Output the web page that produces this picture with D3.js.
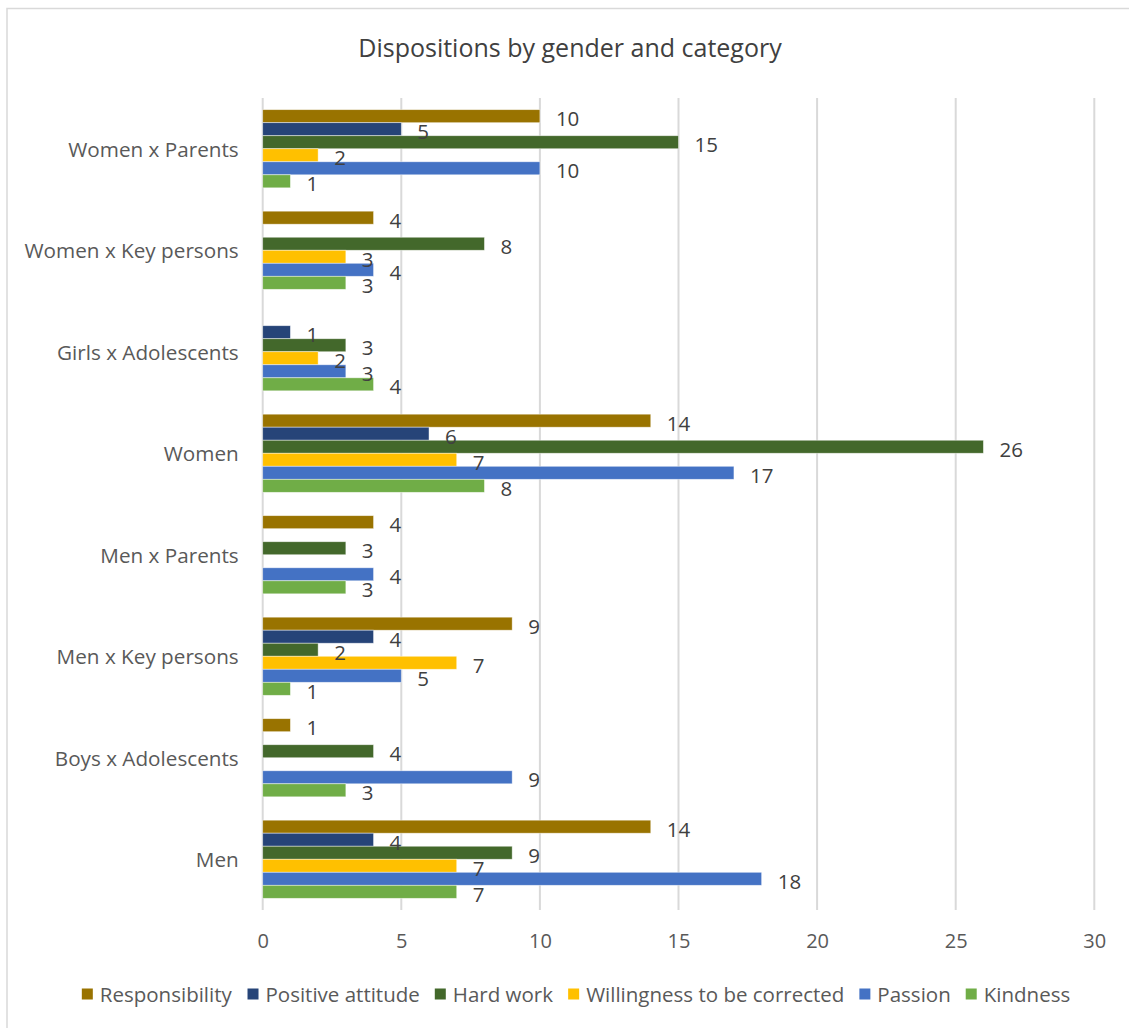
<!DOCTYPE html>
<html>
<head>
<meta charset="utf-8">
<script src="https://cdn.jsdelivr.net/npm/d3@7"></script>
<style>
  html, body { margin: 0; padding: 0; background: #fff; }
  svg text { font-family: "Open Sans", "Segoe UI", sans-serif; }
</style>
</head>
<body>
<svg id="chart" width="1129" height="1028"></svg>
<script>
// Categories, listed top to bottom
const categories = ["Women x Parents", "Women x Key persons", "Girls x Adolescents", "Women",
  "Men x Parents", "Men x Key persons", "Boys x Adolescents", "Men"];

// Series values per category (null = no response)
const responsibility   = [10, 4, null, 14, 4, 9, 1, 14];
const positiveAttitude = [5, null, 1, 6, null, 4, null, 4];
const hardWork         = [15, 8, 3, 26, 3, 2, 4, 9];
const willingness      = [2, 3, 2, 7, null, 7, null, 7];
const passion          = [10, 4, 3, 17, 4, 5, 9, 18];
const kindness         = [1, 3, 4, 8, 3, 1, 3, 7];

const seriesNames  = ["Responsibility", "Positive attitude", "Hard work", "Willingness to be corrected", "Passion", "Kindness"];
const seriesColors = ["#997300", "#264478", "#43682B", "#FFC000", "#4472C4", "#70AD47"];
const seriesValues = [responsibility, positiveAttitude, hardWork, willingness, passion, kindness];

const xTicks = [0, 5, 10, 15, 20, 25, 30];
const title = "Dispositions by gender and category";

const svg = d3.select("#chart");

// Chart frame
svg.append("rect")
  .attr("x", 7).attr("y", 8.5)
  .attr("width", 1140).attr("height", 1040)
  .attr("fill", "none").attr("stroke", "#d9d9d9").attr("stroke-width", 1.5);

const plot = { left: 262.7, right: 1094.3, top: 98, bottom: 910 };

const x = d3.scaleLinear().domain([0, 30]).range([plot.left, plot.right]);
const y0 = d3.scaleBand().domain(categories).range([plot.top, plot.bottom])
  .paddingInner(0.23).paddingOuter(0.115);
const y1 = d3.scaleBand().domain(seriesNames).range([0, y0.bandwidth()]);

// Title
svg.append("text")
  .attr("x", 570).attr("y", 47)
  .attr("text-anchor", "middle").attr("dominant-baseline", "central")
  .attr("font-size", 25).attr("fill", "#404040")
  .text(title);

// Vertical gridlines
svg.append("g").selectAll("line").data(xTicks).join("line")
  .attr("x1", d => x(d)).attr("x2", d => x(d))
  .attr("y1", plot.top).attr("y2", plot.bottom)
  .attr("stroke", "#d9d9d9").attr("stroke-width", 2);

// X axis tick labels
const xAxis = d3.axisBottom(x).tickValues(xTicks).tickSize(0).tickPadding(0);
const gx = svg.append("g").attr("transform", `translate(0, ${plot.bottom})`).call(xAxis);
gx.select(".domain").remove();
gx.selectAll("text")
  .attr("y", 30).attr("dy", null)
  .attr("dominant-baseline", "central")
  .attr("font-size", 20).attr("fill", "#595959")
  .style("font-family", "'Open Sans', sans-serif");

// Category labels
const yAxis = d3.axisLeft(y0).tickSize(0).tickPadding(24);
const gy = svg.append("g").attr("transform", `translate(${plot.left}, 0)`).call(yAxis);
gy.select(".domain").remove();
gy.selectAll("text")
  .attr("dy", null).attr("dominant-baseline", "central")
  .attr("font-size", 20.7).attr("fill", "#595959")
  .style("font-family", "'Open Sans', sans-serif");

// Flatten into bar records
const bars = [];
categories.forEach((cat, ci) => {
  seriesNames.forEach((s, si) => {
    const v = seriesValues[si][ci];
    if (v !== null) bars.push({ cat, series: s, value: v, color: seriesColors[si] });
  });
});

const gBars = svg.append("g");
gBars.selectAll("rect").data(bars).join("rect")
  .attr("x", x(0))
  .attr("y", d => y0(d.cat) + y1(d.series))
  .attr("width", d => x(d.value) - x(0))
  .attr("height", y1.bandwidth())
  .attr("fill", d => d.color)
  .attr("stroke", "#ffffff").attr("stroke-opacity", 0.6).attr("stroke-width", 0.75);

// Value labels
gBars.selectAll("text").data(bars).join("text")
  .attr("x", d => x(d.value) + 16)
  .attr("y", d => y0(d.cat) + y1(d.series) + y1.bandwidth() / 2 + 2)
  .attr("dominant-baseline", "central")
  .attr("font-size", 20.5).attr("fill", "#404040")
  .text(d => d.value);

// Legend
const legend = svg.append("g");
const items = legend.selectAll("g").data(seriesNames).join("g");
items.append("rect")
  .attr("width", 11).attr("height", 11)
  .attr("y", -5.5)
  .attr("fill", (d, i) => seriesColors[i]);
items.append("text")
  .attr("x", 18).attr("dominant-baseline", "central")
  .attr("font-size", 20.5).attr("fill", "#595959")
  .text(d => d);
let cursor = 0;
items.each(function () {
  const w = this.getBBox().width;
  d3.select(this).attr("data-off", cursor);
  cursor += w + 15;
});
const totalW = cursor - 15;
const startX = 576 - totalW / 2;
items.attr("transform", function () {
  return `translate(${startX + (+this.getAttribute("data-off"))}, 994)`;
});
</script>
</body>
</html>
